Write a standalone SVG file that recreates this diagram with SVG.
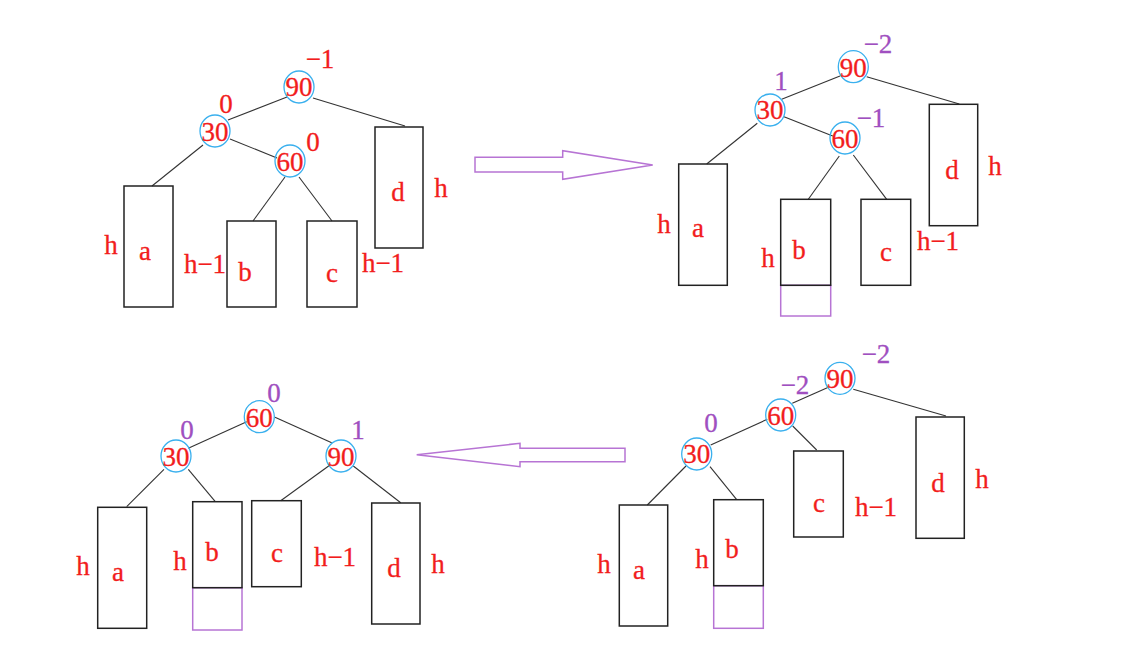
<svg xmlns="http://www.w3.org/2000/svg" width="1136" height="648" viewBox="0 0 1136 648">
<style>
.bg{fill:#fff}
.n{fill:none;stroke:#3ab0ee;stroke-width:1.3}
.r{fill:none;stroke:#222;stroke-width:1.5}
.p{fill:none;stroke:#b774d4;stroke-width:1.5}
.e{stroke:#333;stroke-width:1.1;fill:none}
.arr{fill:none;stroke:#b774d4;stroke-width:1.5}
text{font-family:"Liberation Serif","Times New Roman",serif;font-size:27px;text-anchor:middle}
.t{fill:#f21d1d;stroke:#f21d1d;stroke-width:0.3}
.k{font-size:27px}
.v{fill:#a04fc0;stroke:#a04fc0;stroke-width:0.3}
</style>
<rect class="bg" x="0" y="0" width="1136" height="648"/>

<g id="arrows">
<polygon class="arr" points="475,157.3 562.7,157.3 562.7,150.7 652.7,165 562.7,179.3 562.7,172 475,172"/>
<polygon class="arr" points="625,448.3 520,448.3 520,443.3 416.7,454.7 520,466.7 520,461.7 625,461.7"/>
</g>

<g id="connectors">
<!-- Q1 -->
<line class="e" x1="287" y1="97" x2="228" y2="120"/>
<line class="e" x1="313" y1="98" x2="405" y2="126"/>
<line class="e" x1="203" y1="145" x2="152" y2="186"/>
<line class="e" x1="230" y1="139" x2="277" y2="158"/>
<line class="e" x1="285" y1="177" x2="253" y2="221"/>
<line class="e" x1="299" y1="177" x2="332" y2="221"/>
<!-- Q2 -->
<line class="e" x1="840" y1="76" x2="781.7" y2="99.3"/>
<line class="e" x1="866.7" y1="76.7" x2="959.3" y2="104"/>
<line class="e" x1="757.3" y1="123.3" x2="706.7" y2="164"/>
<line class="e" x1="784" y1="116.7" x2="832.7" y2="136"/>
<line class="e" x1="839.3" y1="156" x2="808.3" y2="199.3"/>
<line class="e" x1="853.3" y1="155" x2="886.7" y2="199.3"/>
<!-- Q3 -->
<line class="e" x1="246.7" y1="421.7" x2="188.3" y2="448.3"/>
<line class="e" x1="275" y1="417.3" x2="331.7" y2="442.7"/>
<line class="e" x1="164" y1="469.3" x2="126.7" y2="506.7"/>
<line class="e" x1="188.3" y1="469.3" x2="215.3" y2="501.7"/>
<line class="e" x1="330" y1="465" x2="280.7" y2="500.7"/>
<line class="e" x1="353.3" y1="466" x2="400.7" y2="502.7"/>
<!-- Q4 -->
<line class="e" x1="827.3" y1="387.7" x2="792.3" y2="403.3"/>
<line class="e" x1="853.3" y1="389.3" x2="946" y2="416"/>
<line class="e" x1="767.3" y1="419.3" x2="710.7" y2="445"/>
<line class="e" x1="792.7" y1="426" x2="816.7" y2="450"/>
<line class="e" x1="686" y1="466" x2="647.3" y2="505"/>
<line class="e" x1="710" y1="466.7" x2="736.7" y2="499.7"/>
</g>

<!-- Quadrant 1 -->
<g id="q1-n90"><ellipse class="n" cx="299" cy="87" rx="15" ry="16"/><text class="t k" x="299" y="96">90</text><text class="t" x="320" y="68">−1</text></g>
<g id="q1-n30"><ellipse class="n" cx="215" cy="131" rx="15" ry="16"/><text class="t k" x="215" y="141">30</text><text class="t" x="226" y="113">0</text></g>
<g id="q1-n60"><ellipse class="n" cx="290" cy="161" rx="15" ry="16"/><text class="t k" x="290" y="171">60</text><text class="t" x="313" y="151">0</text></g>
<g id="q1-a"><rect class="r" x="124" y="186" width="49" height="121"/><text class="t" x="145" y="260">a</text><text class="t" x="111" y="254">h</text></g>
<g id="q1-b"><rect class="r" x="227" y="221" width="49" height="86"/><text class="t" x="245" y="281">b</text><text class="t" x="205" y="273">h−1</text></g>
<g id="q1-c"><rect class="r" x="307" y="221" width="50" height="86"/><text class="t" x="332" y="282">c</text><text class="t" x="383" y="272">h−1</text></g>
<g id="q1-d"><rect class="r" x="375" y="127" width="48" height="121"/><text class="t" x="398" y="201">d</text><text class="t" x="441" y="197">h</text></g>

<!-- Quadrant 2 -->
<g id="q2-n90"><ellipse class="n" cx="853.3" cy="66.7" rx="15" ry="16"/><text class="t k" x="853.3" y="77">90</text><text class="v" x="878" y="53">−2</text></g>
<g id="q2-n30"><ellipse class="n" cx="770" cy="110" rx="15" ry="16"/><text class="t k" x="770" y="119">30</text><text class="v" x="781" y="90">1</text></g>
<g id="q2-n60"><ellipse class="n" cx="845" cy="138" rx="15" ry="16"/><text class="t k" x="845" y="148">60</text><text class="v" x="871" y="127">−1</text></g>
<g id="q2-a"><rect class="r" x="678.7" y="164" width="48.6" height="121.3"/><text class="t" x="698" y="237">a</text><text class="t" x="664" y="233">h</text></g>
<g id="q2-b"><rect class="p" x="780.7" y="285.3" width="50" height="30.7"/><rect class="r" x="780.7" y="199.3" width="50" height="86"/><text class="t" x="799" y="259">b</text><text class="t" x="768" y="267">h</text></g>
<g id="q2-c"><rect class="r" x="861" y="199.3" width="49.7" height="86"/><text class="t" x="886" y="261">c</text><text class="t" x="938" y="250">h−1</text></g>
<g id="q2-d"><rect class="r" x="929.3" y="104.3" width="48.4" height="121.4"/><text class="t" x="952" y="179">d</text><text class="t" x="995" y="175">h</text></g>

<!-- Quadrant 3 -->
<g id="q3-n60"><ellipse class="n" cx="259.3" cy="416.7" rx="15" ry="16"/><text class="t k" x="259.3" y="427">60</text><text class="v" x="274" y="402">0</text></g>
<g id="q3-n30"><ellipse class="n" cx="176" cy="456" rx="15" ry="16"/><text class="t k" x="176" y="466">30</text><text class="v" x="187" y="439">0</text></g>
<g id="q3-n90"><ellipse class="n" cx="341" cy="456" rx="15" ry="16"/><text class="t k" x="341" y="466">90</text><text class="v" x="358" y="439">1</text></g>
<g id="q3-a"><rect class="r" x="97.7" y="507.3" width="49" height="121"/><text class="t" x="118" y="581">a</text><text class="t" x="83" y="575">h</text></g>
<g id="q3-b"><rect class="p" x="192.7" y="587.7" width="49.3" height="42.3"/><rect class="r" x="192.7" y="501.7" width="49.3" height="86"/><text class="t" x="212" y="561">b</text><text class="t" x="180" y="570">h</text></g>
<g id="q3-c"><rect class="r" x="251.7" y="500.7" width="49.6" height="86"/><text class="t" x="277" y="562">c</text><text class="t" x="335" y="566">h−1</text></g>
<g id="q3-d"><rect class="r" x="371.7" y="503" width="48.3" height="121"/><text class="t" x="394" y="577">d</text><text class="t" x="438" y="573">h</text></g>

<!-- Quadrant 4 -->
<g id="q4-n90"><ellipse class="n" cx="840" cy="378.3" rx="15" ry="16"/><text class="t k" x="840" y="388">90</text><text class="v" x="876" y="363">−2</text></g>
<g id="q4-n60"><ellipse class="n" cx="780.7" cy="415" rx="15" ry="16"/><text class="t k" x="780.7" y="425">60</text><text class="v" x="795" y="394">−2</text></g>
<g id="q4-n30"><ellipse class="n" cx="696.7" cy="454" rx="15" ry="16"/><text class="t k" x="696.7" y="463">30</text><text class="v" x="711" y="432">0</text></g>
<g id="q4-a"><rect class="r" x="619.3" y="505" width="48.4" height="121"/><text class="t" x="639" y="579">a</text><text class="t" x="604" y="573">h</text></g>
<g id="q4-b"><rect class="p" x="713.7" y="585.7" width="49.6" height="42.6"/><rect class="r" x="713.7" y="499.7" width="49.6" height="86"/><text class="t" x="732" y="558">b</text><text class="t" x="702" y="568">h</text></g>
<g id="q4-c"><rect class="r" x="793.7" y="451" width="49.6" height="86"/><text class="t" x="819" y="512">c</text><text class="t" x="876" y="516">h−1</text></g>
<g id="q4-d"><rect class="r" x="916" y="417" width="48.3" height="121.3"/><text class="t" x="938" y="492">d</text><text class="t" x="982" y="488">h</text></g>
</svg>
